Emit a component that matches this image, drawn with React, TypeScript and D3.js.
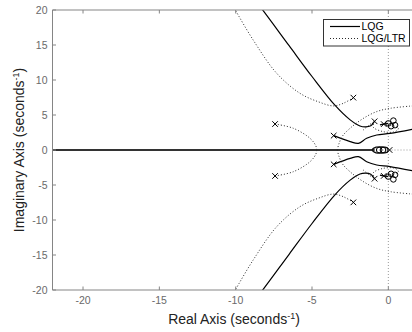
import React from "react";
import * as d3 from "d3";

type P = [number, number];

// Tick values
const xTicks = [-20, -15, -10, -5, 0];
const yTicks = [20, 15, 10, 5, 0, -5, -10, -15, -20];

// LQG (solid) branches, upper half (mirrored for lower half)
const lqgOuter: P[] = [[-0.9, 4.1], [-1.15, 3.45], [-1.5, 3.3], [-1.86, 3.43], [-2.5, 4.3], [-3.5, 6.4], [-5, 10.5], [-6.5, 14.9], [-8.3, 20.2], [-8.6, 21]];
const lqgInner: P[] = [[-3.58, 2.05], [-2.5, 1.2], [-1.96, 0.95], [-1.42, 1.67], [-0.76, 2.14], [0.11, 2.38], [1.6, 2.98]];
const lqgSmall: P[] = [[-0.55, 3.6], [-0.3, 3.7], [0.0, 3.8]];

// LQG/LTR (dotted) branches, upper half
const ltrOuter: P[] = [[-2.29, 7.48], [-2.95, 6.67], [-3.6, 6.3], [-4.6, 6.9], [-5.79, 8.1], [-7.31, 10.95], [-8.85, 15.7], [-10.04, 20.04], [-10.3, 21]];
const ltrMid: P[] = [[-7.42, 3.71], [-6.22, 3.1], [-5.13, 1.67], [-4.75, 0.6], [-4.69, 0]];
const ltrRight: P[] = [[-3.34, 0], [-3.25, 0.8], [-3.0, 2.0], [-2.51, 3.1], [-1.65, 4.5], [-0.77, 5.48], [0.11, 5.95], [1.6, 6.3]];
const ltrLoop: P[] = [[-0.9, 4.1], [-1.0, 3.3], [-0.33, 2.62], [0.44, 2.62], [0.66, 3.1], [0.42, 3.55]];
const ltrShort: P[] = [[-1.64, 2.86], [-1.3, 3.5], [-0.9, 4.1]];

// Real-axis locus and origin cluster
const realAxisLocus: P[] = [[-22, 0], [-0.9, 0]];
const originLoop: P[] = [[-1.05, 0], [-0.8, 0.4], [-0.45, 0.45], [-0.1, 0.35], [-0.02, 0], [-0.1, -0.35], [-0.45, -0.45], [-0.8, -0.4]];

// Poles (x) and zeros (o), upper half + real axis
const poles: P[] = [[-2.29, 7.48], [-7.42, 3.71], [-3.58, 2.05], [-0.9, 4.1], [-0.3, 3.7], [0.08, 0]];
const zeros: P[] = [[0.0, 3.8], [0.33, 4.2], [0.44, 3.55], [0.18, 3.4], [-0.6, 0], [-0.35, 0]];

const W = 412, H = 332;
const L = 52.5, R = 412, T = 10, B = 290;

const x = d3.scaleLinear().domain([-22, 1.55]).range([L, R]);
const y = d3.scaleLinear().domain([-20, 20]).range([B, T]);

const mirror = (pts: P[]): P[] => pts.map(([a, b]) => [a, -b] as P);
const line = d3.line<P>().x(d => x(d[0])).y(d => y(d[1])).curve(d3.curveCatmullRom.alpha(0.5));
const closed = d3.line<P>().x(d => x(d[0])).y(d => y(d[1])).curve(d3.curveCardinalClosed);

const FONT = "'Liberation Sans', Arial, Helvetica, sans-serif";

export default function App() {
  const solid = [lqgOuter, lqgInner, lqgSmall];
  const dotted = [ltrOuter, ltrMid, ltrRight, ltrLoop, ltrShort];
  const allPoles = [...poles, ...mirror(poles).filter(p => p[1] !== 0)];
  const allZeros = [...zeros, ...mirror(zeros).filter(p => p[1] !== 0)];
  const axisCol = "#858585";
  const tickCol = "#6a6a6a";
  return (
    <svg width={W} height={H} style={{ position: "fixed", left: 0, top: 0, background: "#fff" }} fontFamily={FONT}>
      <defs>
        <clipPath id="plot">
          <rect x={L} y={T} width={R - L} height={B - T} />
        </clipPath>
      </defs>
      <rect x={0} y={0} width={W} height={H} fill="#fff" />
      <g clipPath="url(#plot)">
        <line x1={x(0)} x2={x(0)} y1={T} y2={B} stroke="#999" strokeWidth={1} strokeDasharray="1,2" />
        <line x1={L} x2={R} y1={y(0)} y2={y(0)} stroke="#999" strokeWidth={1} strokeDasharray="1,2" />
        <path d={line(realAxisLocus) || ""} stroke="#333" strokeWidth={2} fill="none" />
        <path d={closed(originLoop) || ""} stroke="#111" strokeWidth={1.3} fill="none" />
        {solid.map((b, i) => (
          <g key={"s" + i}>
            <path d={line(b) || ""} stroke="#000" strokeWidth={1.2} fill="none" />
            <path d={line(mirror(b)) || ""} stroke="#000" strokeWidth={1.2} fill="none" />
          </g>
        ))}
        {dotted.map((b, i) => (
          <g key={"d" + i}>
            <path d={line(b) || ""} stroke="#2a2a2a" strokeWidth={1} strokeDasharray="1,2" fill="none" />
            <path d={line(mirror(b)) || ""} stroke="#2a2a2a" strokeWidth={1} strokeDasharray="1,2" fill="none" />
          </g>
        ))}
        {allPoles.map((p, i) => {
          const cx = x(p[0]), cy = y(p[1]), s = 2.8;
          return (
            <g key={"p" + i} stroke="#000" strokeWidth={1}>
              <line x1={cx - s} y1={cy - s} x2={cx + s} y2={cy + s} />
              <line x1={cx - s} y1={cy + s} x2={cx + s} y2={cy - s} />
            </g>
          );
        })}
        {allZeros.map((p, i) => (
          <circle key={"z" + i} cx={x(p[0])} cy={y(p[1])} r={2.8} fill="none" stroke="#000" strokeWidth={1} />
        ))}
      </g>
      <line x1={L} x2={R} y1={T} y2={T} stroke={axisCol} strokeWidth={1} />
      <line x1={L} x2={R} y1={B} y2={B} stroke={axisCol} strokeWidth={1} />
      <line x1={L} x2={L} y1={T} y2={B} stroke={axisCol} strokeWidth={1} />
      {xTicks.map(t => (
        <g key={"xt" + t}>
          <line x1={x(t)} x2={x(t)} y1={B} y2={B - 3.5} stroke={axisCol} />
          <line x1={x(t)} x2={x(t)} y1={T} y2={T + 3.5} stroke={axisCol} />
          <text x={x(t)} y={304} textAnchor="middle" fontSize={10.5} fill={tickCol}>{t}</text>
        </g>
      ))}
      {yTicks.map(t => (
        <g key={"yt" + t}>
          <line x1={L} x2={L + 3.5} y1={y(t)} y2={y(t)} stroke={axisCol} />
          <text x={47.5} y={y(t) + 3.8} textAnchor="end" fontSize={10.5} fill={tickCol}>{t}</text>
        </g>
      ))}
      <text x={234} y={324} textAnchor="middle" fontSize={14} fill="#222">
        Real Axis (seconds<tspan dy={-5} fontSize={9}>-1</tspan><tspan dy={5}>)</tspan>
      </text>
      <text transform="translate(24,150) rotate(-90)" textAnchor="middle" fontSize={14} fill="#222">
        Imaginary Axis (seconds<tspan dy={-5} fontSize={9}>-1</tspan><tspan dy={5}>)</tspan>
      </text>
      <rect x={323.5} y={19.5} width={86} height={26.5} fill="#fff" stroke="#333" strokeWidth={1} />
      <line x1={330} x2={360} y1={26.5} y2={26.5} stroke="#000" strokeWidth={1.2} />
      <text x={361.5} y={30.3} fontSize={10.5} fill="#000">LQG</text>
      <line x1={330} x2={360} y1={38.5} y2={38.5} stroke="#2a2a2a" strokeWidth={1} strokeDasharray="1,2" />
      <text x={361.5} y={42.3} fontSize={10.5} fill="#000">LQG/LTR</text>
    </svg>
  );
}
